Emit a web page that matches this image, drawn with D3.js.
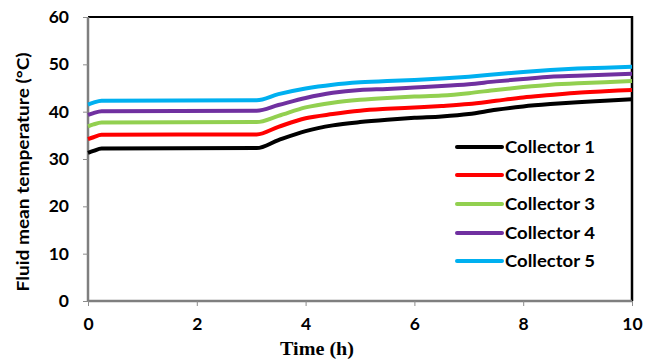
<!DOCTYPE html>
<html><head><meta charset="utf-8">
<script src="https://cdn.jsdelivr.net/npm/d3@7"></script>
<style>body{margin:0;background:#fff}svg{display:block}</style>
</head><body><svg id="c" width="646" height="361"></svg>
<script>
const times = [0, 0.1, 0.25, 3.1, 3.5, 4, 4.5, 5, 5.5, 6, 6.5, 7, 7.5, 8, 8.5, 9, 9.5, 10];
const collector1 = [31.3, 31.7, 32.2, 32.3, 34.0, 35.9, 37.1, 37.8, 38.3, 38.7, 39.0, 39.5, 40.4, 41.1, 41.6, 42.0, 42.3, 42.6];
const collector2 = [34.2, 34.6, 35.1, 35.2, 36.8, 38.6, 39.5, 40.2, 40.6, 40.9, 41.2, 41.6, 42.3, 43.0, 43.5, 44.0, 44.3, 44.6];
const collector3 = [36.9, 37.3, 37.7, 37.8, 39.1, 40.9, 41.9, 42.5, 42.9, 43.2, 43.4, 43.9, 44.6, 45.2, 45.7, 46.0, 46.2, 46.5];
const collector4 = [39.3, 39.7, 40.1, 40.2, 41.4, 42.9, 44.0, 44.6, 44.8, 45.1, 45.4, 45.8, 46.4, 46.9, 47.4, 47.6, 47.8, 48.0];
const collector5 = [41.5, 41.9, 42.3, 42.4, 43.7, 44.9, 45.7, 46.2, 46.5, 46.7, 47.0, 47.4, 47.9, 48.4, 48.8, 49.1, 49.3, 49.5];
const seriesNames = ["Collector 1", "Collector 2", "Collector 3", "Collector 4", "Collector 5"];
const seriesColors = ["#000000", "#FF0000", "#92D050", "#7030A0", "#00B0F0"];
const xTicks = [0, 2, 4, 6, 8, 10];
const yTicks = [0, 10, 20, 30, 40, 50, 60];

const allSeries = [collector1, collector2, collector3, collector4, collector5];
const svg = d3.select("#c");
const L = 88, R = 632, T = 17, B = 301;
const x = d3.scaleLinear().domain([0, 10]).range([L, R]);
const y = d3.scaleLinear().domain([0, 60]).range([B, T]);
const sans = "Lato, 'Open Sans', sans-serif";

// frame top/right
svg.append("line").attr("x1", L).attr("x2", R).attr("y1", T).attr("y2", T).attr("stroke", "#000").attr("stroke-width", 2);
svg.append("line").attr("x1", R).attr("x2", R).attr("y1", T - 1).attr("y2", B).attr("stroke", "#000").attr("stroke-width", 2.5);

// axes
const yAxis = svg.append("g").attr("transform", `translate(${L},0)`)
  .call(d3.axisLeft(y).tickValues(yTicks).tickSize(5).tickPadding(14).tickFormat(d3.format("d")));
const xAxis = svg.append("g").attr("transform", `translate(0,${B})`)
  .call(d3.axisBottom(x).tickValues(xTicks).tickSize(5).tickPadding(12).tickFormat(d3.format("d")));
[yAxis, xAxis].forEach(g => {
  g.select(".domain").attr("stroke", "#7f7f7f").attr("stroke-width", 2.5);
  g.selectAll(".tick line").attr("stroke", "#8c8c8c").attr("stroke-width", 1);
  g.selectAll("text").attr("font-family", sans).attr("font-weight", "bold")
    .attr("font-size", 17.5).attr("fill", "#000");
});
xAxis.select(".domain").attr("d", `M${L},0H${R}`);
yAxis.select(".domain").attr("d", `M0,${B}V${T}`);

// lines
const line = d3.line().x((d, i) => x(times[i])).y(d => y(d)).curve(d3.curveMonotoneX);
allSeries.forEach((s, k) => {
  svg.append("path").datum(s).attr("d", line).attr("fill", "none")
    .attr("stroke", seriesColors[k]).attr("stroke-width", 4).attr("stroke-linejoin", "round");
});

// legend
const legY = [147, 175, 204, 233, 261];
seriesNames.forEach((n, k) => {
  const g = svg.append("g");
  g.append("line").attr("x1", 457).attr("x2", 502).attr("y1", legY[k]).attr("y2", legY[k])
    .attr("stroke", seriesColors[k]).attr("stroke-width", 4).attr("stroke-linecap", "round");
  g.append("text").attr("x", 505).attr("y", legY[k]).attr("dy", "0.36em")
    .attr("font-family", sans).attr("font-weight", "bold").attr("font-size", 17.5)
    .attr("textLength", 90).attr("lengthAdjust", "spacingAndGlyphs")
    .text(n);
});

// titles
svg.append("text").attr("x", 317).attr("y", 355).attr("text-anchor", "middle")
  .attr("font-family", "'Liberation Serif', 'Times New Roman', serif").attr("font-weight", "bold").attr("font-size", 18)
  .attr("textLength", 74).attr("lengthAdjust", "spacingAndGlyphs")
  .text("Time (h)");
svg.append("text").attr("transform", "translate(29,172) rotate(-90)").attr("text-anchor", "middle")
  .attr("font-family", sans).attr("font-weight", "bold").attr("font-size", 17)
  .attr("textLength", 239).attr("lengthAdjust", "spacingAndGlyphs")
  .text("Fluid mean temperature (°C)");
</script></body></html>
